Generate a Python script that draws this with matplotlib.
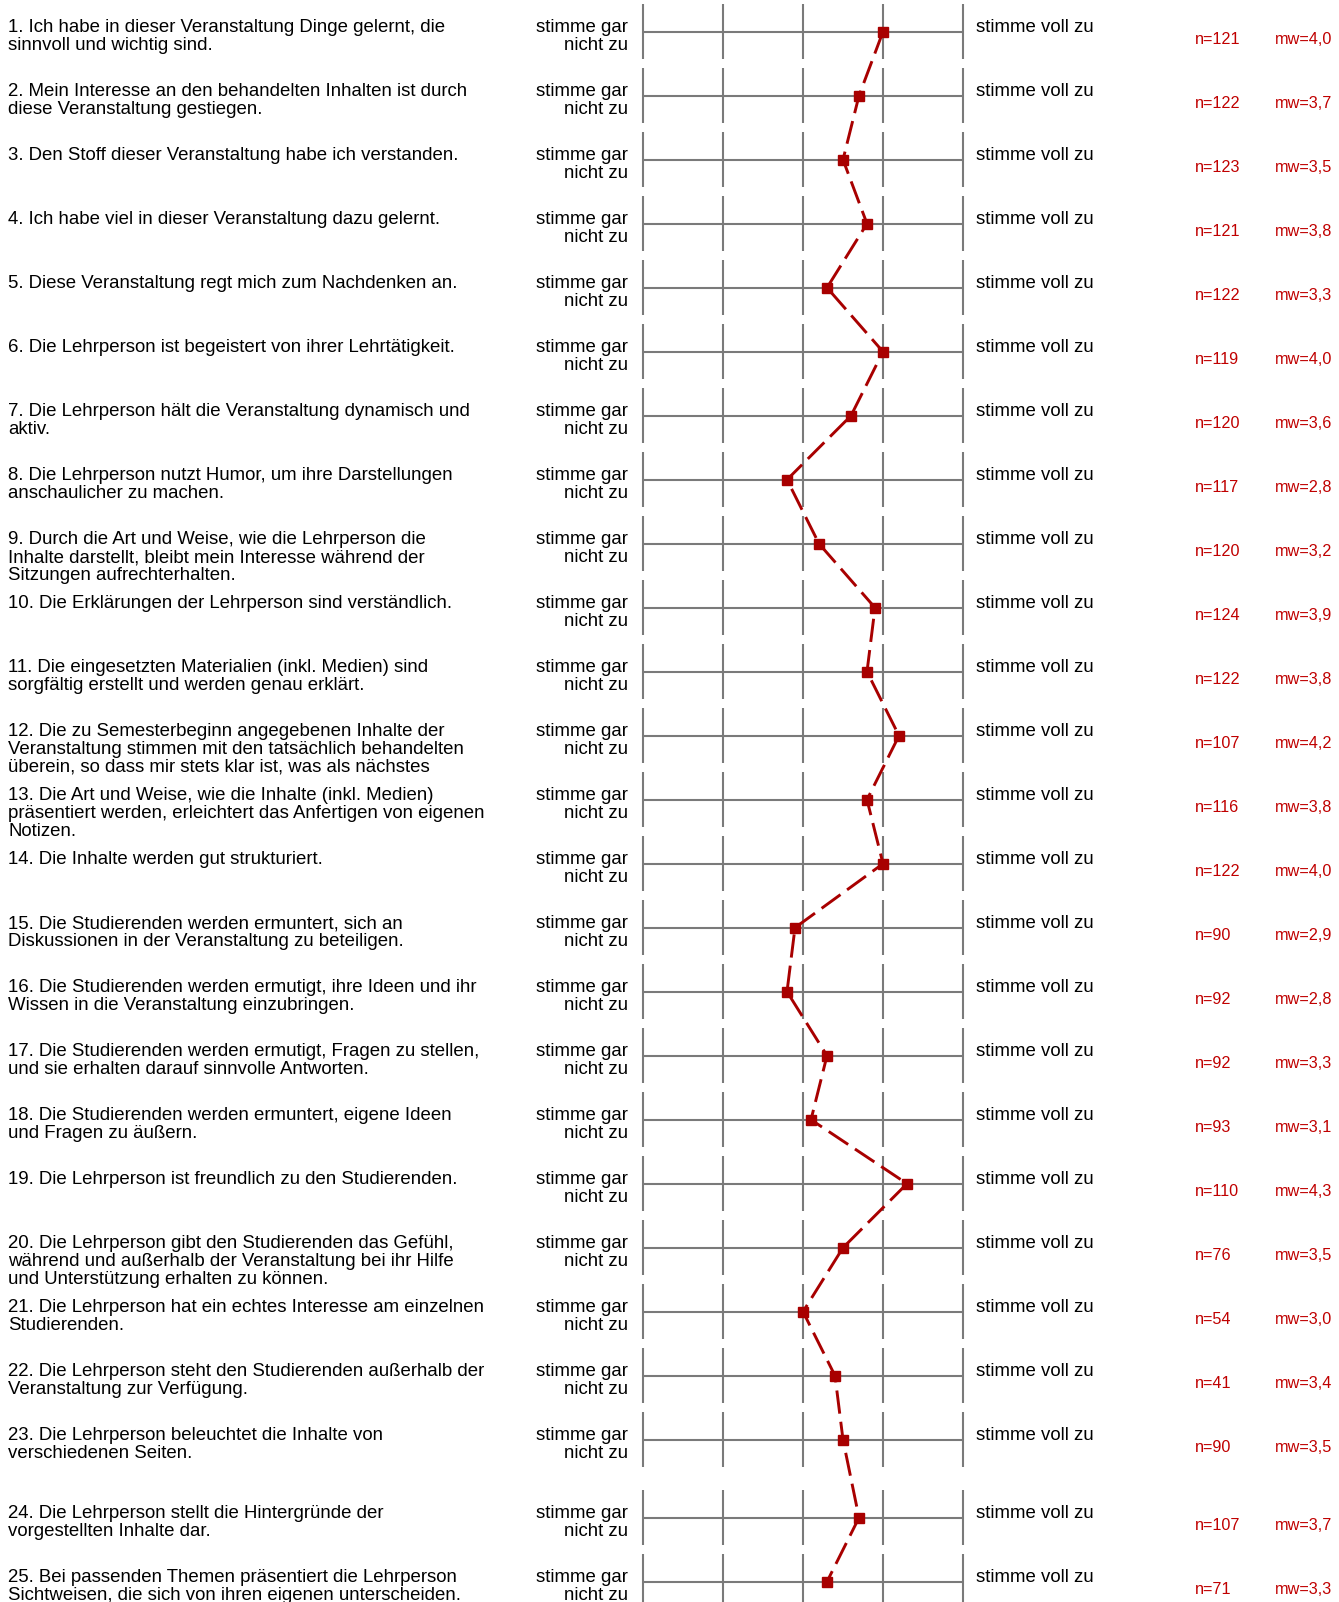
import matplotlib
matplotlib.use("Agg")
import matplotlib.pyplot as plt
from matplotlib.transforms import blended_transform_factory

questions = [
    "1. Ich habe in dieser Veranstaltung Dinge gelernt, die\nsinnvoll und wichtig sind.",
    "2. Mein Interesse an den behandelten Inhalten ist durch\ndiese Veranstaltung gestiegen.",
    "3. Den Stoff dieser Veranstaltung habe ich verstanden.",
    "4. Ich habe viel in dieser Veranstaltung dazu gelernt.",
    "5. Diese Veranstaltung regt mich zum Nachdenken an.",
    "6. Die Lehrperson ist begeistert von ihrer Lehrtätigkeit.",
    "7. Die Lehrperson hält die Veranstaltung dynamisch und\naktiv.",
    "8. Die Lehrperson nutzt Humor, um ihre Darstellungen\nanschaulicher zu machen.",
    "9. Durch die Art und Weise, wie die Lehrperson die\nInhalte darstellt, bleibt mein Interesse während der\nSitzungen aufrechterhalten.",
    "10. Die Erklärungen der Lehrperson sind verständlich.",
    "11. Die eingesetzten Materialien (inkl. Medien) sind\nsorgfältig erstellt und werden genau erklärt.",
    "12. Die zu Semesterbeginn angegebenen Inhalte der\nVeranstaltung stimmen mit den tatsächlich behandelten\nüberein, so dass mir stets klar ist, was als nächstes",
    "13. Die Art und Weise, wie die Inhalte (inkl. Medien)\npräsentiert werden, erleichtert das Anfertigen von eigenen\nNotizen.",
    "14. Die Inhalte werden gut strukturiert.",
    "15. Die Studierenden werden ermuntert, sich an\nDiskussionen in der Veranstaltung zu beteiligen.",
    "16. Die Studierenden werden ermutigt, ihre Ideen und ihr\nWissen in die Veranstaltung einzubringen.",
    "17. Die Studierenden werden ermutigt, Fragen zu stellen,\nund sie erhalten darauf sinnvolle Antworten.",
    "18. Die Studierenden werden ermuntert, eigene Ideen\nund Fragen zu äußern.",
    "19. Die Lehrperson ist freundlich zu den Studierenden.",
    "20. Die Lehrperson gibt den Studierenden das Gefühl,\nwährend und außerhalb der Veranstaltung bei ihr Hilfe\nund Unterstützung erhalten zu können.",
    "21. Die Lehrperson hat ein echtes Interesse am einzelnen\nStudierenden.",
    "22. Die Lehrperson steht den Studierenden außerhalb der\nVeranstaltung zur Verfügung.",
    "23. Die Lehrperson beleuchtet die Inhalte von\nverschiedenen Seiten.",
    "24. Die Lehrperson stellt die Hintergründe der\nvorgestellten Inhalte dar.",
    "25. Bei passenden Themen präsentiert die Lehrperson\nSichtweisen, die sich von ihren eigenen unterscheiden.",
]
n_values = [121, 122, 123, 121, 122, 119, 120, 117, 120, 124, 122, 107, 116,
            122, 90, 92, 92, 93, 110, 76, 54, 41, 90, 107, 71]
means = [4.0, 3.7, 3.5, 3.8, 3.3, 4.0, 3.6, 2.8, 3.2, 3.9, 3.8, 4.2, 3.8,
         4.0, 2.9, 2.8, 3.3, 3.1, 4.3, 3.5, 3.0, 3.4, 3.5, 3.7, 3.3]
scale_points = [1, 2, 3, 4, 5]
left_label = ["stimme gar", "nicht zu"]
right_label = "stimme voll zu"

# ---- layout (pixels) ----
W, H = 1339, 1602
PX_PER_UNIT = 80          # horizontal pixels per scale step
SCALE_LEFT_PX = 643       # pixel position of scale value 1
ROW0 = 31.7               # centre of the first row
ROW_STEP = 64             # distance between rows
EXTRA_GAP_BEFORE = {23: 14}   # extra spacing before row index 23 (item 24)
LINE_H = 17.8             # text line height

row_y = []
y = ROW0
for i in range(len(questions)):
    if i > 0:
        y += ROW_STEP + EXTRA_GAP_BEFORE.get(i, 0)
    row_y.append(y)

GRID = "#7a7a7a"
LINE_RED = "#a80000"
TEXT_RED = "#c00000"
FONT = "Liberation Sans"
FS_BLACK = 18.7 * 72 / 100
FS_RED = 16.2 * 72 / 100

fig = plt.figure(figsize=(W / 100, H / 100), dpi=100)
ax = fig.add_axes([0, 0, 1, 1])
ax.set_xlim(1 - SCALE_LEFT_PX / PX_PER_UNIT, 1 + (W - SCALE_LEFT_PX) / PX_PER_UNIT)
ax.set_ylim(H, 0)
ax.axis("off")

tr = blended_transform_factory(fig.transFigure, ax.transData)

for i, yc in enumerate(row_y):
    # horizontal scale line and vertical ticks for each row
    ax.plot([scale_points[0], scale_points[-1]], [yc, yc], color=GRID, lw=1.5,
            solid_capstyle="butt", zorder=1)
    for sp in scale_points:
        ax.plot([sp, sp], [yc - 28, yc + 27.5], color=GRID, lw=1.5,
                solid_capstyle="butt", zorder=1)

    # question text
    for k, line in enumerate(questions[i].split("\n")):
        ax.text(8 / W, yc + 0.6 + k * LINE_H, line, transform=tr, ha="left",
                va="baseline", fontsize=FS_BLACK, family=FONT, color="black")
    # scale end labels
    for k, line in enumerate(left_label):
        ax.text(628 / W, yc + 0.6 + k * LINE_H, line, transform=tr, ha="right",
                va="baseline", fontsize=FS_BLACK, family=FONT, color="black")
    ax.text(976 / W, yc + 0.6, right_label, transform=tr, ha="left",
            va="baseline", fontsize=FS_BLACK, family=FONT, color="black")
    # statistics
    ax.text(1195 / W, yc + 12.6, f"n={n_values[i]}", transform=tr, ha="left",
            va="baseline", fontsize=FS_RED, family=FONT, color=TEXT_RED)
    ax.text(1275 / W, yc + 12.6, "mw=" + f"{means[i]:.1f}".replace(".", ","),
            transform=tr, ha="left", va="baseline", fontsize=FS_RED,
            family=FONT, color=TEXT_RED)

# profile line of the means
ax.plot(means, row_y, color=LINE_RED, lw=2.1, dashes=(8, 2.8),
        marker="s", markersize=6.8, markerfacecolor=LINE_RED,
        markeredgecolor=LINE_RED, zorder=3)

fig.savefig("out.png", dpi=100, facecolor="white")
